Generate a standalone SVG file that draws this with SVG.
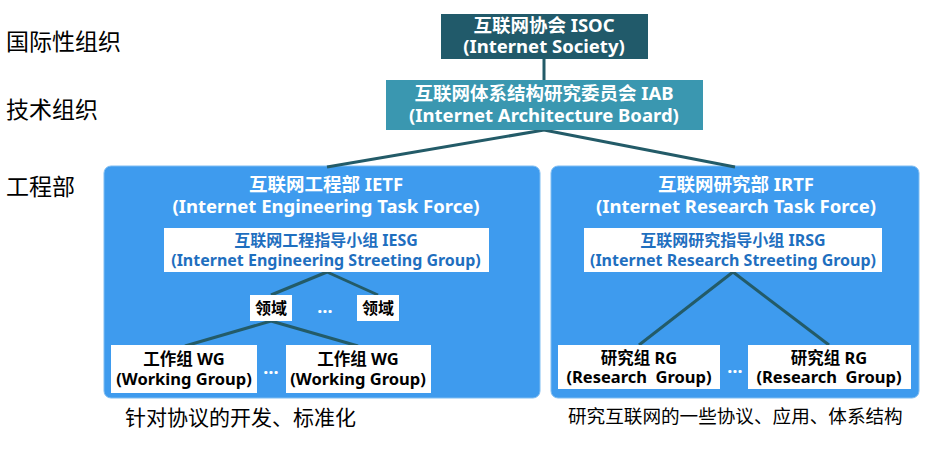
<svg xmlns="http://www.w3.org/2000/svg" width="929" height="468" viewBox="0 0 929 468">
<style>
.t{font-family:"Noto Sans","Noto Sans CJK SC",sans-serif;font-weight:bold;text-anchor:middle}
.w{fill:#ffffff}
.b{fill:#1f6fbf}
.k{fill:#000000}
.lbl{font-family:"Noto Sans CJK SC",sans-serif;font-size:21px;fill:#000}
.ln{stroke:#235b68;stroke-width:3;fill:none}
.box{fill:#ffffff}
.cont{fill:#3e9bee;stroke:#7fbdf2;stroke-width:1}
</style>
<rect width="929" height="468" fill="#ffffff"/>
<g id="labels">
<text class="lbl" x="6" y="50" style="font-size:23px">国际性组织</text>
<text class="lbl" x="6" y="118" style="font-size:23px">技术组织</text>
<text class="lbl" x="6" y="195" style="font-size:23px">工程部</text>
<text class="lbl" x="125" y="425">针对协议的开发、标准化</text>
<text class="lbl" x="568" y="423" style="font-size:18.6px">研究互联网的一些协议、应用、体系结构</text>
</g>
<g id="IETF">
<rect class="cont" x="104" y="166" width="436" height="232" rx="7"/>
<text class="t w" x="326" y="191" font-size="18.5">互联网工程部 IETF</text>
<text class="t w" x="326" y="213" font-size="18.5">(Internet Engineering Task Force)</text>
</g>
<g id="IRTF">
<rect class="cont" x="551" y="166" width="368" height="232" rx="7"/>
<text class="t w" x="736" y="191" font-size="18.5">互联网研究部 IRTF</text>
<text class="t w" x="736" y="213" font-size="18.5">(Internet Research Task Force)</text>
</g>
<g id="connectors">
<line class="ln" x1="544" y1="59" x2="544" y2="80"/>
<line class="ln" x1="544" y1="130" x2="327" y2="167"/>
<line class="ln" x1="544" y1="130" x2="735" y2="167"/>
<line class="ln" x1="327" y1="272" x2="271" y2="295"/>
<line class="ln" x1="327" y1="272" x2="378" y2="295"/>
<line class="ln" x1="271" y1="321" x2="185" y2="346"/>
<line class="ln" x1="271" y1="321" x2="358" y2="346"/>
<line class="ln" x1="733" y1="272" x2="639" y2="345"/>
<line class="ln" x1="733" y1="272" x2="829" y2="345"/>
</g>
<g id="ISOC">
<rect x="441" y="14" width="207" height="45" fill="#215a6a"/>
<text class="t w" x="544" y="32" font-size="18.5">互联网协会 ISOC</text>
<text class="t w" x="544" y="53" font-size="18.5">(Internet Society)</text>
</g>
<g id="IAB">
<rect x="386" y="80" width="317" height="50" fill="#3a97b0"/>
<text class="t w" x="544" y="100" font-size="18.5">互联网体系结构研究委员会 IAB</text>
<text class="t w" x="544" y="122" font-size="18.5">(Internet Architecture Board)</text>
</g>
<g id="IESG">
<rect class="box" x="164" y="228" width="325" height="44"/>
<text class="t b" x="326" y="246" font-size="16">互联网工程指导小组 IESG</text>
<text class="t b" x="326" y="266" font-size="16">(Internet Engineering Streeting Group)</text>
</g>
<g id="IRSG">
<rect class="box" x="584" y="228" width="298" height="44"/>
<text class="t b" x="733" y="246" font-size="16">互联网研究指导小组 IRSG</text>
<text class="t b" x="733" y="266" font-size="16">(Internet Research Streeting Group)</text>
</g>
<g id="area1">
<rect class="box" x="250" y="295" width="42" height="26"/>
<text class="t k" x="271" y="314" font-size="16">领域</text>
</g>
<g id="area2">
<rect class="box" x="357" y="295" width="42" height="26"/>
<text class="t k" x="378" y="314" font-size="16">领域</text>
</g>
<g id="WG1">
<rect class="box" x="111" y="345" width="146" height="48"/>
<text class="t k" x="184" y="365" font-size="16.5">工作组 WG</text>
<text class="t k" x="184" y="385" font-size="16.5">(Working Group)</text>
</g>
<g id="WG2">
<rect class="box" x="286" y="345" width="145" height="48"/>
<text class="t k" x="358" y="365" font-size="16.5">工作组 WG</text>
<text class="t k" x="358" y="385" font-size="16.5">(Working Group)</text>
</g>
<g id="RG1">
<rect class="box" x="558" y="345" width="162" height="44"/>
<text class="t k" x="639" y="364" font-size="16.5">研究组 RG</text>
<text class="t k" x="639" y="383" font-size="16.5" xml:space="preserve">(Research  Group)</text>
</g>
<g id="RG2">
<rect class="box" x="748" y="345" width="163" height="44"/>
<text class="t k" x="829" y="364" font-size="16.5">研究组 RG</text>
<text class="t k" x="829" y="383" font-size="16.5" xml:space="preserve">(Research  Group)</text>
</g>
<g id="dots">
<text class="t w" x="325" y="313" font-size="18">…</text>
<text class="t w" x="271" y="374" font-size="18">…</text>
<text class="t w" x="735" y="373" font-size="18">…</text>
</g>
</svg>
